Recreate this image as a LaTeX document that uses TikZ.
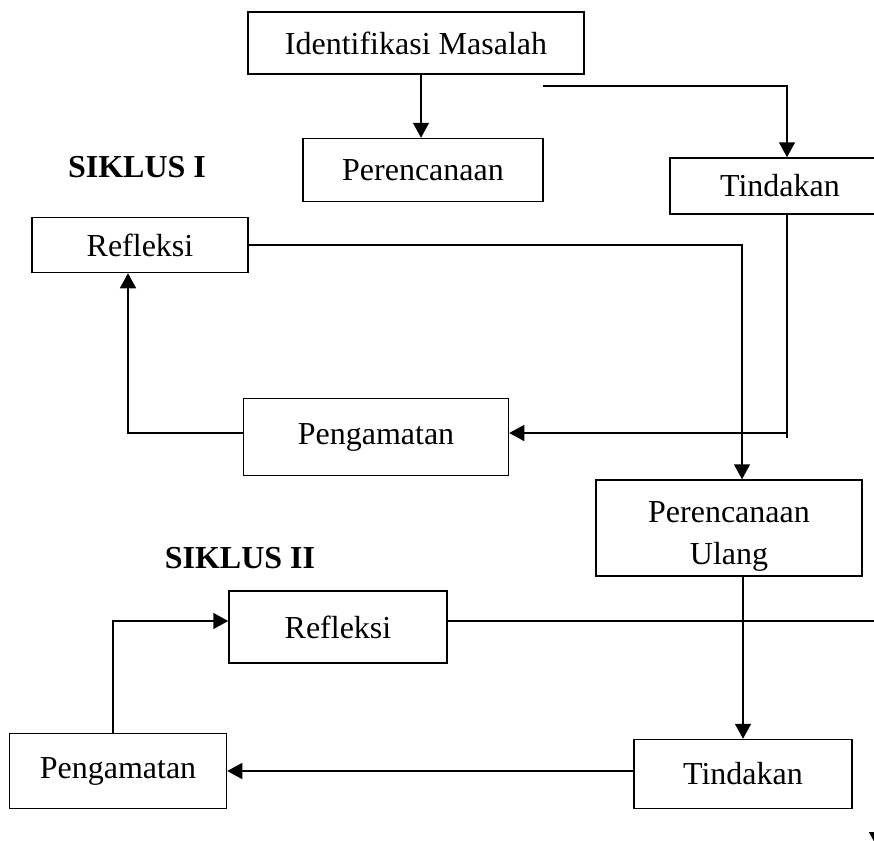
\documentclass[tikz,border=0pt]{standalone}
\usepackage{fontspec}
\setmainfont{Liberation Serif}
\usetikzlibrary{calc, shapes, arrows.meta}

\begin{document}
\begin{tikzpicture}[x=1pt, y=-1pt, line width=1.5pt,
	box/.style={draw, rectangle, inner sep=0pt, font=\fontsize{32}{42}\selectfont},
	arr/.style={-{Triangle[length=15pt,width=16pt]}},
	siklus/.style={font=\fontsize{32}{42}\selectfont\bfseries}]
	\useasboundingbox (0,0) rectangle (874,840);
	\clip (0,0) rectangle (874,840);
	%Siklus I
	\node [box, minimum width=336pt, minimum height=62pt] (idm) at (416,43) {Identifikasi Masalah};
	\node [box, minimum width=240pt, minimum height=63pt] (per1) at (423,170) {Perencanaan};
	\node [box, minimum width=220pt, minimum height=56pt] (tin1) at (780,186) {Tindakan};
	\node [box, minimum width=216pt, minimum height=55pt] (ref1) at (140,245) {Refleksi};
	\node [box, minimum width=265pt, minimum height=77pt] (pen1) at (376,437) {Pengamatan};
	\node [siklus] (sik1) at (137,167) {SIKLUS I};
	%Siklus II
	\node [box, minimum width=266pt, minimum height=96pt] (per2) at (729,528)
		{\raisebox{-7pt}[\height][\depth]{\begin{tabular}{@{}c@{}}Perencanaan\\Ulang\end{tabular}}};
	\node [box, minimum width=218pt, minimum height=69pt] (tin2) at (743,774) {Tindakan};
	\node [box, minimum width=218pt, minimum height=72pt] (ref2) at (338,627) {Refleksi};
	\node [box, minimum width=217pt, minimum height=75pt] (pen2) at (118,771) {Pengamatan};
	\node [siklus] (sik2) at (240,558) {SIKLUS II};
	%Free ends
	\coordinate (start1) at (543,86);
	\coordinate (corner1) at (787,438);
	\coordinate (exit2) at (877,621);
	%Connectors
	\draw [arr] (idm.south -| 421,0) -- (per1.north -| 421,0);
	\draw [arr] (start1) -| (tin1.north -| 787,0);
	\draw [arr] (ref1.east) -| (per2.north -| 742,0);
	\draw (tin1.south -| corner1) -- (corner1);
	\draw [arr] ([yshift=4pt]corner1 |- pen1.east) -- ([yshift=4pt]pen1.east);
	\draw [arr] ([yshift=4pt]pen1.west) -| (ref1.south -| 128,0);
	\draw [arr] (per2.south -| tin2.north) -- (tin2.north);
	\draw [arr] (tin2.west |- pen2.east) -- (pen2.east);
	\draw [arr] (pen2.north -| 113,0) |- ([yshift=6pt]ref2.west);
	\draw [arr] ([yshift=6pt]ref2.east) -- (exit2) -- ($(exit2)+(0,226)$);
\end{tikzpicture}
\end{document}
